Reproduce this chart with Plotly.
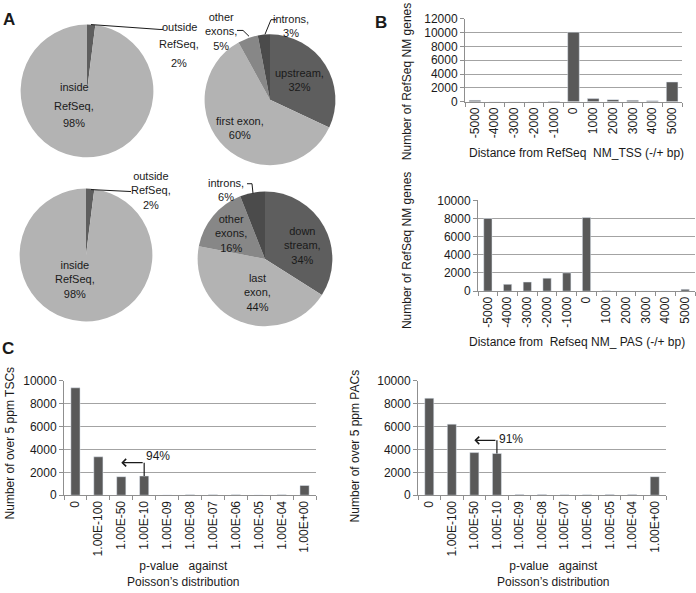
import plotly.graph_objects as go

W, H = 696, 593
FONT = "'Liberation Sans', Arial, sans-serif"
TXT = "#1a1a1a"
BAR = "#595959"
GRID = "#a3a3a3"
AXL = "#8f8f8f"

# ---------------- data ----------------
pie1_labels = ["outside RefSeq", "inside RefSeq"]
pie1_values = [2, 98]
pie2_labels = ["upstream", "first exon", "other exons", "introns"]
pie2_values = [32, 60, 5, 3]
pie3_labels = ["outside RefSeq", "inside RefSeq"]
pie3_values = [2, 98]
pie4_labels = ["down stream", "last exon", "other exons", "introns"]
pie4_values = [34, 44, 16, 6]

dist_cats = ["-5000", "-4000", "-3000", "-2000", "-1000", "0",
             "1000", "2000", "3000", "4000", "5000"]
tss_counts = [200, 0, 0, 0, 50, 10050, 450, 300, 200, 150, 2850]
pas_counts = [8000, 750, 1000, 1430, 2010, 8100, 50, 0, 0, 0, 200]

pval_cats = ["0", "1.00E-100", "1.00E-50", "1.00E-10", "1.00E-09", "1.00E-08",
             "1.00E-07", "1.00E-06", "1.00E-05", "1.00E-04", "1.00E+00"]
tsc_counts = [9400, 3360, 1620, 1680, 20, 30, 30, 30, 20, 30, 850]
pac_counts = [8490, 6220, 3730, 3650, 60, 60, 50, 50, 60, 60, 1620]


def fx(x):
    return x / W


def fy(y):
    return 1 - y / H


fig = go.Figure()

c_dark = "#5e5e5e"
c_light = "#b3b3b3"
c_mid = "#878787"
c_darkest = "#4b4b4b"


def add_pie(labels, values, colors, cx, cy, r):
    fig.add_trace(go.Pie(
        labels=labels, values=values, sort=False, direction="clockwise",
        rotation=0, textinfo="none", hoverinfo="label+percent",
        marker=dict(colors=colors, line=dict(width=0)),
        domain=dict(x=[fx(cx - r), fx(cx + r)], y=[fy(cy + r), fy(cy - r)]),
        showlegend=False))


add_pie(pie1_labels, pie1_values, [c_dark, c_light], 87, 86, 68)
add_pie(pie2_labels, pie2_values, [c_dark, c_light, c_mid, c_darkest], 270, 95, 67)
add_pie(pie3_labels, pie3_values, [c_dark, c_light], 86, 254, 68)
add_pie(pie4_labels, pie4_values, [c_dark, c_light, c_mid, c_darkest], 265, 258, 69)

# ---------------- bars ----------------
fig.add_trace(go.Bar(x=dist_cats, y=tss_counts, marker_color=BAR, width=0.59,
                     xaxis="x", yaxis="y", showlegend=False))
fig.add_trace(go.Bar(x=dist_cats, y=pas_counts, marker_color=BAR, width=0.42,
                     xaxis="x2", yaxis="y2", showlegend=False))
fig.add_trace(go.Bar(x=pval_cats, y=tsc_counts, marker_color=BAR, width=0.4,
                     xaxis="x3", yaxis="y3", showlegend=False))
fig.add_trace(go.Bar(x=pval_cats, y=pac_counts, marker_color=BAR, width=0.4,
                     xaxis="x4", yaxis="y4", showlegend=False))


def xax(x0, x1, anchor):
    return dict(domain=[fx(x0), fx(x1)], anchor=anchor, type="category",
                range=[-0.5, 10.5], showline=True, linecolor=AXL, linewidth=1,
                ticks="outside", tickson="boundaries", ticklen=4, tickcolor=AXL,
                tickangle=-90, dtick=1, tick0=0, showgrid=False, zeroline=False,
                tickfont=dict(size=12, color=TXT, family=FONT))


def yax(y0, y1, anchor, top):
    return dict(domain=[fy(y1), fy(y0)], anchor=anchor, range=[0, top],
                dtick=2000, tickformat="d", showgrid=True, gridcolor=GRID, gridwidth=1,
                showline=True, linecolor=AXL, linewidth=1, ticks="outside",
                ticklen=4, tickcolor=AXL, zeroline=False,
                tickfont=dict(size=12, color=TXT, family=FONT))


anns = []


def txt(x, y, s, size=11, angle=0, bold=False, xanchor="center"):
    anns.append(dict(xref="paper", yref="paper", x=fx(x), y=fy(y),
                     text=("<b>%s</b>" % s) if bold else s,
                     showarrow=False, xanchor=xanchor, yanchor="middle",
                     textangle=angle, borderpad=0,
                     font=dict(size=size, color=TXT, family=FONT)))


def lines(x, items, size=11):
    for s, y in items:
        txt(x, y, s, size)


# panel letters
txt(9, 13, "A", 17, bold=True)
txt(381, 16, "B", 17, bold=True)
txt(8, 350, "C", 17, bold=True)

# pie labels
lines(179, [("outside", 20), ("RefSeq,", 38), ("2%", 57)])
lines(74, [("inside", 82), ("RefSeq,", 101), ("98%", 119)])
txt(221, 25, "other<br>exons,<br>5%")
txt(291, 19, "introns,<br>3%")
txt(299, 75, "upstream,<br>32%")
txt(240, 124, "first exon,<br>60%")

txt(151, 188, "outside<br>RefSeq,<br>2%")
txt(75, 279, "inside<br>RefSeq,<br>98%")
txt(226, 187, "introns,<br>6%")
txt(231, 232, "other<br>exons,<br>16%")
txt(302, 244, "down<br>stream,<br>34%")
txt(257, 292, "last<br>exon,<br>44%")

# axis titles
txt(407, 77, "Number of RefSeq NM genes", 12, angle=-90)
txt(407, 250, "Number of RefSeq NM genes", 12, angle=-90)
txt(576, 150, "Distance from RefSeq\u00a0\u00a0NM_TSS (-/+ bp)", 12)
txt(577, 343, "Distance from\u00a0\u00a0Refseq NM_ PAS (-/+ bp)", 12)
txt(10, 447, "Number of over 5 ppm TSCs", 12, angle=-90)
txt(355, 450, "Number of over 5 ppm PACs", 12, angle=-90)
txt(183, 581, "p-value\u00a0\u00a0\u00a0against<br>Poisson\u2019s distribution", 12)
txt(553, 581, "p-value\u00a0\u00a0\u00a0against<br>Poisson\u2019s distribution", 12)

# percentage arrows in C
tsc_arrow_y = 2850
pac_arrow_y = 4800
anns.append(dict(xref="x3", yref="y3", axref="x3", ayref="y3", x=2, y=tsc_arrow_y,
                 ax=3, ay=tsc_arrow_y, showarrow=True, arrowhead=4, arrowsize=1.2,
                 arrowwidth=1.2, arrowcolor=TXT, text=""))
anns.append(dict(xref="x3", yref="y3", x=3, y=3420, text="94%", showarrow=False,
                 xanchor="left", yanchor="middle", font=dict(size=12, color=TXT, family=FONT)))
anns.append(dict(xref="x4", yref="y4", axref="x4", ayref="y4", x=2, y=pac_arrow_y,
                 ax=3, ay=pac_arrow_y, showarrow=True, arrowhead=4, arrowsize=1.2,
                 arrowwidth=1.2, arrowcolor=TXT, text=""))
anns.append(dict(xref="x4", yref="y4", x=3, y=4950, text="91%", showarrow=False,
                 xanchor="left", yanchor="middle", font=dict(size=12, color=TXT, family=FONT)))

shapes = [
    dict(type="line", xref="x3", yref="y3", x0=3, x1=3, y0=tsc_counts[3], y1=tsc_arrow_y,
         line=dict(color=TXT, width=1.2)),
    dict(type="line", xref="x4", yref="y4", x0=3, x1=3, y0=pac_counts[3], y1=pac_arrow_y,
         line=dict(color=TXT, width=1.2)),
]


def leader(pts):
    d = "M" + " L".join("%f,%f" % (fx(x), fy(y)) for x, y in pts)
    shapes.append(dict(type="path", xref="paper", yref="paper", path=d,
                       line=dict(color=TXT, width=1)))


leader([(91, 18), (160, 23), (163, 23)])
leader([(237, 24), (243, 24), (249, 30)])
leader([(276, 13), (271, 13), (265, 28)])
leader([(91, 187), (131, 189)])
leader([(247, 181), (252, 181), (253, 191)])

fig.update_layout(
    width=W, height=H, autosize=False,
    margin=dict(l=0, r=0, t=0, b=0),
    paper_bgcolor="white", plot_bgcolor="white",
    font=dict(family=FONT, size=12, color=TXT),
    xaxis=xax(465, 682, "y"), yaxis=yax(12, 97, "x", 12000),
    xaxis2=xax(478, 695, "y2"), yaxis2=yax(198, 291, "x2", 10000),
    xaxis3=xax(64, 316, "y3"), yaxis3=yax(383, 500, "x3", 10000),
    xaxis4=xax(418, 666, "y4"), yaxis4=yax(383, 500, "x4", 10000),
    annotations=anns, shapes=shapes,
)

fig.write_html("out.html", config={"displayModeBar": False},
               post_script="document.body.style.margin='0';document.body.style.overflow='hidden';")
